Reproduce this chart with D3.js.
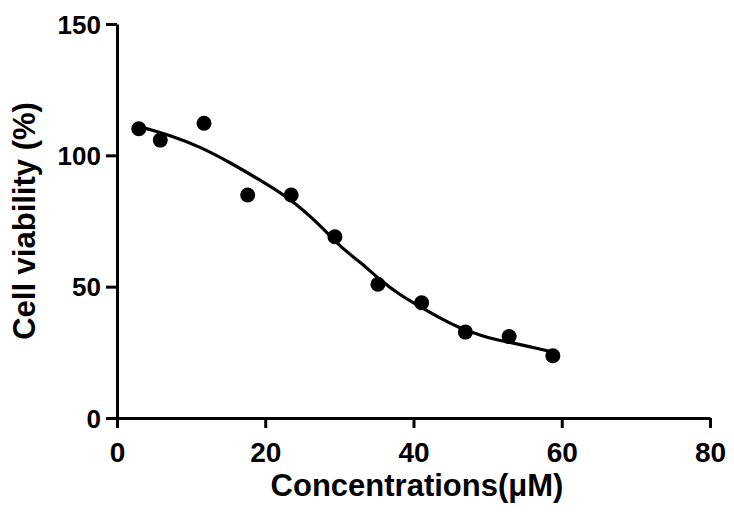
<!DOCTYPE html>
<html><head><meta charset="utf-8">
<script src="https://cdn.jsdelivr.net/npm/d3@7"></script>
<style>body{margin:0;background:#fff}svg{display:block}</style>
</head><body>
<script>
const concentrations = [2.94, 5.84, 11.74, 17.63, 23.5, 29.4, 35.2, 41.1, 47.0, 52.9, 58.8];
const viability = [110.1, 105.8, 112.2, 84.9, 84.9, 69.0, 50.9, 43.9, 32.7, 31.0, 23.7];
const fitX = [3.1, 3.78, 7.15, 11.2, 15.24, 19.29, 23.34, 27.39, 30.08, 32.78, 35.48, 38.18, 40.88, 43.57, 46.27, 47.62, 50.32, 53.02, 55.72, 58.68];
const fitY = [110.9, 110.3, 107.7, 103.3, 97.3, 90.6, 83.6, 73.5, 65.2, 59.5, 52.5, 46.8, 42.4, 38.0, 34.2, 32.9, 30.3, 28.8, 27.1, 25.2];
const xTicks = [0, 20, 40, 60, 80];
const yTicks = [0, 50, 100, 150];

const W = 734, H = 528;
const svg = d3.select("body").append("svg").attr("width", W).attr("height", H);
const x = d3.scaleLinear().domain([0, 80]).range([117, 710]);
const y = d3.scaleLinear().domain([0, 150]).range([418, 24]);
const font = "'Liberation Sans', Arial, sans-serif";

const xAxis = svg.append("g").attr("transform", "translate(0,418)")
  .call(d3.axisBottom(x).tickValues(xTicks).tickSize(10).tickPadding(14).tickSizeOuter(0));
const yAxis = svg.append("g").attr("transform", "translate(117,0)")
  .call(d3.axisLeft(y).tickValues(yTicks).tickSize(11).tickPadding(5).tickSizeOuter(0));
[xAxis, yAxis].forEach(g => {
  g.select(".domain").attr("stroke", "#000").attr("stroke-width", 3);
  g.selectAll(".tick line").attr("stroke", "#000").attr("stroke-width", 3);
  g.selectAll("text").attr("fill", "#000").style("font-family", font).style("font-weight", "bold");
});
xAxis.selectAll("text").style("font-size", "28px").attr("dy", "0.71em");
yAxis.selectAll("text").style("font-size", "26px").attr("dy", "0.35em");

const fit = fitX.map((v, i) => [v, fitY[i]]);
svg.append("path").datum(fit)
  .attr("d", d3.line().x(d => x(d[0])).y(d => y(d[1])).curve(d3.curveBasis))
  .attr("fill", "none").attr("stroke", "#000").attr("stroke-width", 3.2);

svg.append("g").selectAll("circle").data(concentrations).join("circle")
  .attr("cx", d => x(d)).attr("cy", (d, i) => y(viability[i])).attr("r", 7.5).attr("fill", "#000");

svg.append("text").attr("x", 417).attr("y", 496).attr("text-anchor", "middle")
  .style("font-family", font).style("font-weight", "bold").style("font-size", "31px")
  .text("Concentrations(μM)");
svg.append("text").attr("transform", "translate(35,221) rotate(-90)").attr("text-anchor", "middle")
  .style("font-family", font).style("font-weight", "bold").style("font-size", "31px")
  .text("Cell viability (%)");
</script>
</body></html>
